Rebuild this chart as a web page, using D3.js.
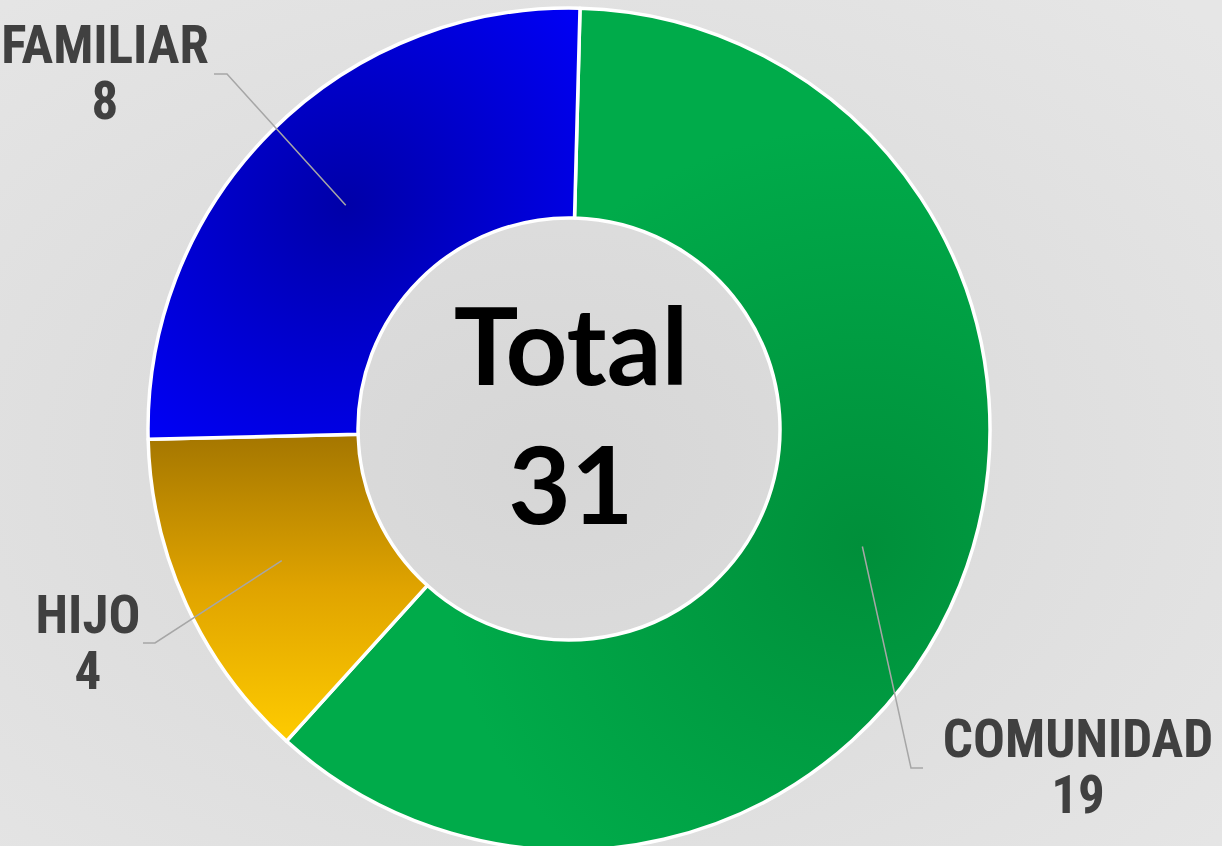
<!DOCTYPE html>
<html>
<head>
<meta charset="utf-8">
<script src="https://cdn.jsdelivr.net/npm/d3@7"></script>
<style>
  html, body { margin: 0; padding: 0; overflow: hidden; }
  svg { display: block; }
</style>
</head>
<body>
<svg id="chart"></svg>
<script>
const width = 1222, height = 846;

// chart data
const categories = ["COMUNIDAD", "HIJO", "FAMILIAR"];
const values = [19, 4, 8];
const totalLabel = "Total";

const svg = d3.select("#chart").attr("width", width).attr("height", height);
const defs = svg.append("defs");

// background gradient
const bg = defs.append("radialGradient").attr("id", "bg")
    .attr("cx", "45%").attr("cy", "55%").attr("r", "75%");
bg.append("stop").attr("offset", "0%").attr("stop-color", "#d6d6d6");
bg.append("stop").attr("offset", "100%").attr("stop-color", "#e6e6e6");
svg.append("rect").attr("width", width).attr("height", height).attr("fill", "url(#bg)");

const cx = 569, cy = 429;
const outerR = 421, innerR = 211;
const offset = 1.5 * Math.PI / 180;

const pie = d3.pie().sort(null).value(d => d)
    .startAngle(offset).endAngle(2 * Math.PI + offset);
const arcs = pie(values);
const arc = d3.arc().innerRadius(innerR).outerRadius(outerR);

const g = svg.append("g").attr("transform", `translate(${cx},${cy})`);

// slice gradients
const radialStops = {
    COMUNIDAD: ["#008f3a", "#00ab4a"],
    FAMILIAR: ["#0000a8", "#0000f5"]
};
arcs.forEach((a, i) => {
    const name = categories[i];
    const [mx, my] = arc.centroid(a);
    if (name === "HIJO") {
        const lg = defs.append("linearGradient").attr("id", "grad" + i)
            .attr("gradientUnits", "userSpaceOnUse")
            .attr("x1", 0).attr("y1", 5).attr("x2", 0).attr("y2", 315);
        lg.append("stop").attr("offset", "0%").attr("stop-color", "#a47600");
        lg.append("stop").attr("offset", "50%").attr("stop-color", "#e0a400");
        lg.append("stop").attr("offset", "100%").attr("stop-color", "#ffcc00");
    } else {
        const rg = defs.append("radialGradient").attr("id", "grad" + i)
            .attr("gradientUnits", "userSpaceOnUse")
            .attr("cx", mx).attr("cy", my).attr("r", name === "COMUNIDAD" ? 420 : 300);
        rg.append("stop").attr("offset", "0%").attr("stop-color", radialStops[name][0]);
        rg.append("stop").attr("offset", "100%").attr("stop-color", radialStops[name][1]);
    }
});

g.selectAll("path.slice")
    .data(arcs)
    .join("path")
    .attr("class", "slice")
    .attr("d", arc)
    .attr("fill", (d, i) => `url(#grad${i})`)
    .attr("stroke", "#ffffff")
    .attr("stroke-width", 3.5)
    .attr("stroke-linejoin", "round");

// label layout (elbow point, horizontal end, text centre, first baseline)
const labelLayout = [
    { elbow: [911 - cx, 768 - cy], end: [923 - cx, 768 - cy], tx: 1078 - cx, ty: 757 - cy },
    { elbow: [155 - cx, 643 - cy], end: [143 - cx, 643 - cy], tx: 88 - cx, ty: 633 - cy },
    { elbow: [227 - cx, 74 - cy], end: [214 - cx, 74 - cy], tx: 105 - cx, ty: 63 - cy }
];

g.selectAll("path.leader")
    .data(arcs)
    .join("path")
    .attr("class", "leader")
    .attr("d", (d, i) => d3.line()([arc.centroid(d), labelLayout[i].elbow, labelLayout[i].end]))
    .attr("fill", "none")
    .attr("stroke", "#a6a6a6")
    .attr("stroke-width", 1.5);

const labels = g.selectAll("text.lbl")
    .data(arcs)
    .join("text")
    .attr("class", "lbl")
    .attr("text-anchor", "middle")
    .attr("font-family", "'Liberation Sans Narrow', 'Roboto Condensed', 'Arial Narrow', sans-serif")
    .attr("font-weight", "bold")
    .attr("font-size", 53)
    .attr("fill", "#404040");
labels.append("tspan")
    .attr("x", (d, i) => labelLayout[i].tx)
    .attr("y", (d, i) => labelLayout[i].ty)
    .text((d, i) => categories[i]);
labels.append("tspan")
    .attr("x", (d, i) => labelLayout[i].tx)
    .attr("y", (d, i) => labelLayout[i].ty + 56)
    .text(d => d.value);

// centre total
const total = d3.sum(values);
const centre = g.append("text")
    .attr("text-anchor", "middle")
    .attr("font-family", "Lato, 'Open Sans', sans-serif")
    .attr("font-weight", "bold")
    .attr("font-size", 108)
    .attr("fill", "#000000");
centre.append("tspan").attr("x", 2).attr("y", 385 - cy).text(totalLabel);
centre.append("tspan").attr("x", 2).attr("y", 524 - cy).text(total);
</script>
</body>
</html>
